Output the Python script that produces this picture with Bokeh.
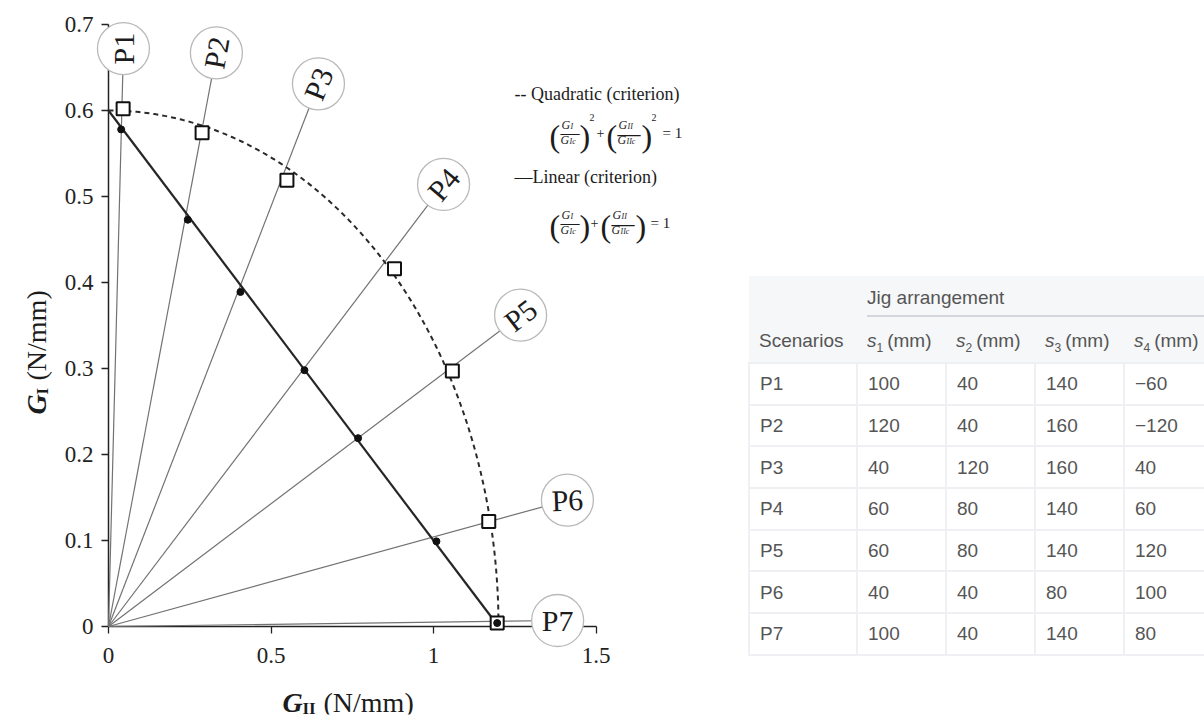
import numpy as np
from bokeh.plotting import figure
from bokeh.models import Label, Range1d, FixedTicker, Div, ColumnDataSource
from bokeh.layouts import row
from bokeh.core.properties import value
from bokeh.embed import file_html
from bokeh.resources import INLINE

# ---------------------------------------------------------------- data
scenarios = ["P1", "P2", "P3", "P4", "P5", "P6", "P7"]

# failure points predicted with the quadratic criterion (open squares)
gii_quadratic = [0.045, 0.288, 0.549, 0.880, 1.058, 1.170, 1.196]
gi_quadratic = [0.602, 0.574, 0.519, 0.416, 0.297, 0.122, 0.004]

# failure points predicted with the linear criterion (dots)
gii_linear = [0.039, 0.244, 0.406, 0.603, 0.768, 1.009, 1.196]
gi_linear = [0.578, 0.473, 0.389, 0.298, 0.219, 0.099, 0.004]

# critical energy release rates (N/mm)
G_Ic = 0.60
G_IIc = 1.20

x_ticks = [0, 0.5, 1, 1.5]
x_tick_labels = ["0", "0.5", "1", "1.5"]
y_ticks = [0, 0.1, 0.2, 0.3, 0.4, 0.5, 0.6, 0.7]
y_tick_labels = ["0", "0.1", "0.2", "0.3", "0.4", "0.5", "0.6", "0.7"]

# jig arrangement per scenario (mm)
s1_mm = [100, 120, 40, 60, 60, 40, 100]
s2_mm = [40, 40, 120, 80, 80, 40, 40]
s3_mm = [140, 160, 160, 140, 140, 80, 140]
s4_mm = [-60, -120, 40, 60, 120, 100, 80]

# ---------------------------------------------------------------- layout
FIG_W, FIG_H = 740, 722
FRAME_L, FRAME_R, FRAME_T, FRAME_B = 12, 740, 0, 714
ORIGIN_PX = (108, 626)          # screen position of G_II = 0, G_I = 0
PX_PER_GII = 325.0
PX_PER_GI = 860.0


def gx(px):
    return (px - ORIGIN_PX[0]) / PX_PER_GII


def gy(py):
    return (ORIGIN_PX[1] - py) / PX_PER_GI


# scenario tags at the end of each loading ray
tag_gii = [0.046, 0.332, 0.646, 1.031, 1.268, 1.412, 1.382]
tag_gi = [0.672, 0.667, 0.631, 0.514, 0.362, 0.147, 0.007]
tag_angle = [90, 80, 68, 50, 38, 2, 0]

SERIF = "Liberation Serif"
INK = "#1c1c1c"

p = figure(
    width=FIG_W, height=FIG_H,
    x_range=Range1d(gx(FRAME_L), gx(FRAME_R)),
    y_range=Range1d(gy(FRAME_B), gy(FRAME_T)),
    min_border_left=FRAME_L, min_border_right=FIG_W - FRAME_R,
    min_border_top=FRAME_T, min_border_bottom=FIG_H - FRAME_B,
    output_backend="svg", toolbar_location=None,
)
p.grid.visible = False
p.outline_line_color = None
p.background_fill_color = "white"
p.border_fill_color = "white"

# axes sit on the data origin; their tick texts are set as labels below
for ax in (p.xaxis[0], p.yaxis[0]):
    ax.fixed_location = 0
    ax.level = "underlay"
    ax.axis_line_color = "#222222"
    ax.axis_line_width = 1.5
    ax.major_tick_line_color = "#222222"
    ax.major_tick_line_width = 1.3
    ax.major_tick_in = 0
    ax.major_tick_out = 7
    ax.minor_tick_line_color = None
    ax.major_label_text_font_size = "1px"
    ax.major_label_text_alpha = 0
    ax.major_label_standoff = 0
    ax.axis_label = None

p.xaxis[0].ticker = FixedTicker(ticks=x_ticks)
p.xaxis[0].bounds = (x_ticks[0], x_ticks[-1])
p.yaxis[0].ticker = FixedTicker(ticks=y_ticks)
p.yaxis[0].bounds = (y_ticks[0], y_ticks[-1])

src = ColumnDataSource(dict(
    name=scenarios,
    gii_q=gii_quadratic, gi_q=gi_quadratic,
    gii_l=gii_linear, gi_l=gi_linear,
    tx=tag_gii, ty=tag_gi, ang=tag_angle,
))

# loading rays from the origin to each scenario tag
p.segment(x0=0, y0=0, x1="tx", y1="ty", source=src,
          line_color="#727272", line_width=1.2)

# quadratic criterion: (G_I/G_Ic)^2 + (G_II/G_IIc)^2 = 1
t = np.linspace(0, np.pi / 2, 240)
p.line(G_IIc * np.sin(t), G_Ic * np.cos(t), line_color="#2a2a2a",
       line_width=2, line_dash="5 4")

# linear criterion: G_I/G_Ic + G_II/G_IIc = 1
p.line([0, G_IIc], [G_Ic, 0], line_color="#262626", line_width=2.2)

p.scatter("gii_q", "gi_q", source=src, marker="square", size=13,
          fill_color="white", line_color="#111111", line_width=2)
p.scatter("gii_l", "gi_l", source=src, marker="circle", size=7,
          fill_color="#111111", line_color="#111111")

# circled scenario tags
p.scatter("tx", "ty", source=src, marker="circle", size=52,
          fill_color="white", line_color="#b9b9b9", line_width=1.3)
p.text("tx", "ty", text="name", angle="ang", angle_units="deg", source=src,
       text_font=value(SERIF), text_font_size="30px", text_color=INK,
       text_align="center", text_baseline="middle")


def put(px, py, text, size, style="normal", angle=0, color=INK,
        align="left", baseline="alphabetic"):
    p.add_layout(Label(
        x=gx(px), y=gy(py), text=text, text_font=SERIF,
        text_font_size=f"{size}px", text_font_style=style,
        angle=angle, angle_units="deg", text_color=color,
        text_align=align, text_baseline=baseline,
    ))


# tick texts
for tick, txt in zip(y_ticks, y_tick_labels):
    p.add_layout(Label(x=gx(93), y=tick, text=txt, text_font=SERIF,
                       text_font_size="23px", text_color="#222222",
                       text_align="right", text_baseline="middle"))
for tick, txt in zip(x_ticks, x_tick_labels):
    p.add_layout(Label(x=tick, y=gy(647), text=txt, text_font=SERIF,
                       text_font_size="23px", text_color="#222222",
                       text_align="center", text_baseline="top"))

# axis titles
put(282, 702, "G", 28, "bold italic")
put(302, 708, "II", 17, "bold")
put(323, 702, "(N/mm)", 28)

put(36, 414, "G", 28, "bold italic", angle=90)
put(42, 394, "I", 17, "bold", angle=90)
put(36, 380, "(N/mm)", 28, angle=90)

# legend
put(514, 93, "-- Quadratic (criterion)", 18)
put(514, 176, "\u2014Linear (criterion)", 18)


def fraction(xl, yc, sub_num, sub_den, w):
    put(xl, yc + round(0.27 * w), "\u2014", w)
    put(xl + 1, yc - 3, "G", 12, "italic")
    put(xl + 10, yc - 1, sub_num, 8, "italic")
    put(xl, yc + 12, "G", 12, "italic")
    put(xl + 9, yc + 14, sub_den, 8, "italic")


def criterion(x0, yc, squared):
    put(x0, yc + 8, "(", 32)
    fraction(x0 + 11, yc, "I", "Ic", 19)
    put(x0 + 30, yc + 8, ")", 32)
    x = x0 + 41
    if squared:
        put(x - 1, yc - 10, "2", 10)
        x += 6
    put(x, yc + 5, "+", 14)
    x += 10
    put(x, yc + 8, "(", 32)
    fraction(x + 11, yc, "II", "IIc", 23)
    put(x + 35, yc + 8, ")", 32)
    x += 46
    if squared:
        put(x - 1, yc - 10, "2", 10)
        x += 6
    put(x + 4, yc + 5, "= 1", 15)


criterion(549, 127, True)
criterion(549, 217, False)

# ---------------------------------------------------------------- table
MINUS = "\u2212"


def fmt(v):
    return f"{MINUS}{abs(v)}" if v < 0 else str(v)


td = "border:2px solid #eef0f3;padding:0 0 0 10px;text-align:left;"
th = "font-weight:normal;text-align:left;padding:0 0 0 10px;"
sub = "font-size:12px;position:relative;top:5px;margin-right:4px;"

head1 = ("<tr style='background:#f6f7f9;height:43px'>"
         f"<th style='{th}'></th>"
         "<th colspan='4' style='font-weight:normal;text-align:left;"
         "vertical-align:bottom;padding:0 6px 2px 10px'>"
         "<div style='border-bottom:2px solid #d3d6da;padding-bottom:6px;"
         "line-height:22px'>Jig arrangement</div></th></tr>")
head2 = ("<tr style='background:#f6f7f9;height:44px'>"
         f"<th style='{th}'>Scenarios</th>"
         + "".join(f"<th style='{th}'><i>s</i><span style='{sub}'>{k}</span>(mm)</th>"
                   for k in range(1, 5))
         + "</tr>")
body = "".join(
    "<tr style='height:41.7px'>"
    f"<td style='{td}'>{name}</td>"
    + "".join(f"<td style='{td}'>{fmt(v)}</td>" for v in vals)
    + "</tr>"
    for name, vals in zip(scenarios, zip(s1_mm, s2_mm, s3_mm, s4_mm))
)

table_html = (
    "<div style=\"padding:271px 0 0 3px;font-family:'Liberation Sans',Arial,"
    "sans-serif;font-size:19px;color:#555555\">"
    "<table style='border-collapse:collapse;table-layout:fixed;width:461px'>"
    "<colgroup><col style='width:108px'><col style='width:89px'>"
    "<col style='width:89px'><col style='width:89px'><col style='width:86px'>"
    "</colgroup>"
    + head1 + head2 + body +
    "</table></div>"
)

table = Div(text=table_html, width=1204 - FIG_W, height=FIG_H,
            styles={"overflow": "hidden"})

layout = row(p, table)
open("out.html", "w").write(file_html(layout, INLINE))
